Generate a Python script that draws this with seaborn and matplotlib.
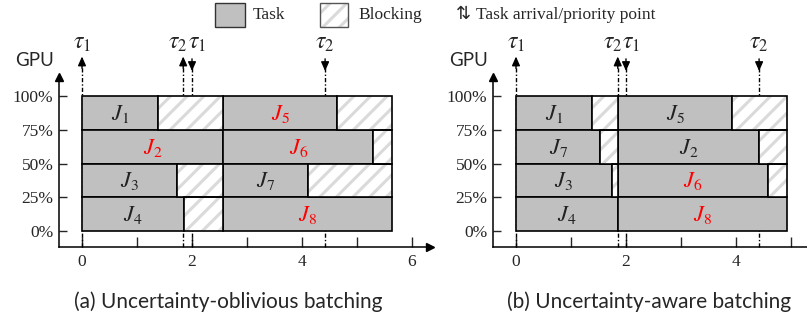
import matplotlib
matplotlib.use("Agg")
import matplotlib.pyplot as plt
import seaborn as sns
import pandas as pd
from matplotlib.patches import Rectangle

# ---- schedule (a): uncertainty-oblivious batching ----
a_jobs = ["1", "2", "3", "4", "5", "6", "7", "8"]
a_rows = [3, 2, 1, 0, 3, 2, 1, 0]
a_start = [0, 0, 0, 0, 2.57, 2.57, 2.57, 2.57]
a_task_end = [1.38, 2.57, 1.73, 1.85, 4.64, 5.29, 4.10, 5.63]
a_slot_end = [2.57, 2.57, 2.57, 2.57, 5.63, 5.63, 5.63, 5.63]
a_red = ["2", "5", "6", "8"]
a_tau_x = [0, 1.84, 2.0, 4.42]
a_tau_lab = ["1", "2", "1", "2"]
a_tau_dir = ["up", "up", "down", "down"]

# ---- schedule (b): uncertainty-aware batching ----
b_jobs = ["1", "7", "3", "4", "5", "2", "6", "8"]
b_rows = [3, 2, 1, 0, 3, 2, 1, 0]
b_start = [0, 0, 0, 0, 1.86, 1.86, 1.86, 1.86]
b_task_end = [1.39, 1.53, 1.74, 1.86, 3.92, 4.42, 4.58, 4.92]
b_slot_end = [1.86, 1.86, 1.86, 1.86, 4.92, 4.92, 4.92, 4.92]
b_red = ["6", "8"]
b_tau_x = [0, 1.85, 2.0, 4.42]
b_tau_lab = ["1", "2", "1", "2"]
b_tau_dir = ["up", "up", "down", "down"]

gpu_ticks = [0, 1, 2, 3, 4]
gpu_labels = ["0%", "25%", "50%", "75%", "100%"]
time_ticks = [0, 1, 2, 3, 4, 5, 6]
time_labels = ["0", "", "2", "", "4", "", "6"]

captions = ["(a) Uncertainty-oblivious batching", "(b) Uncertainty-aware batching"]

sns.set_theme(style="white", rc={"axes.edgecolor": "black", "hatch.linewidth": 2.2})
plt.rcParams["font.family"] = ["Liberation Serif", "DejaVu Sans"]
plt.rcParams["mathtext.fontset"] = "stix"

TASK_GRAY = "#c0c0c0"
HATCH_GRAY = "#dadada"
W, H = 807, 323
fig = plt.figure(figsize=(W / 100, H / 100), dpi=100)


def px_axes(x0, x1, ytop, ybot):
    return fig.add_axes([x0 / W, 1 - ybot / H, (x1 - x0) / W, (ybot - ytop) / H])


def draw_panel(ax, xlim, df, red, tau_x, tau_lab, tau_dir, caption, cap_x, arrow_x=True):
    ax.set_xlim(*xlim)
    ax.set_ylim(-0.474, 4.563)
    ax.patch.set_alpha(0)
    for s in ["top", "right"]:
        ax.spines[s].set_visible(False)
    for s in ["left", "bottom"]:
        ax.spines[s].set_linewidth(1.1)
        ax.spines[s].set_color("black")

    # arrival / priority points
    for x, lab, d in zip(tau_x, tau_lab, tau_dir):
        ax.plot([x, x], [-0.474, 4.95], color="black", lw=1.0,
                dashes=(3, 1.5, 1, 1.5), clip_on=False, zorder=1)
        if d == "up":
            ax.annotate("", xy=(x, 5.17), xytext=(x, 4.82), annotation_clip=False,
                        arrowprops=dict(arrowstyle="-|>,head_length=0.45,head_width=0.2",
                                        color="black", lw=1.0, shrinkA=0, shrinkB=0))
        else:
            ax.annotate("", xy=(x, 4.74), xytext=(x, 5.1), annotation_clip=False,
                        arrowprops=dict(arrowstyle="-|>,head_length=0.45,head_width=0.2",
                                        color="black", lw=1.0, shrinkA=0, shrinkB=0))
    for i, (x, lab) in enumerate(zip(tau_x, tau_lab)):
        if i == 1:
            ha, dx = "right", 4.5
        elif i == 2:
            ha, dx = "left", -4.0
        else:
            ha, dx = "center", 0
        ax.annotate(rf"$\tau_{lab}$", xy=(x, 5.55), xytext=(dx * 0.72, 0),
                    textcoords="offset points", ha=ha, va="center", fontsize=17,
                    annotation_clip=False)

    # task bars and blocking
    ax.barh(df["row"], df["task_end"] - df["start"], left=df["start"], height=1.0,
            align="edge", color=TASK_GRAY, edgecolor="black", linewidth=1.2, zorder=3)
    blk = df[df["slot_end"] > df["task_end"] + 1e-9]
    ax.barh(blk["row"], blk["slot_end"] - blk["task_end"], left=blk["task_end"], height=1.0,
            align="edge", color="white", edgecolor=HATCH_GRAY, hatch="//", linewidth=0, zorder=3)
    ax.barh(blk["row"], blk["slot_end"] - blk["task_end"], left=blk["task_end"], height=1.0,
            align="edge", fill=False, edgecolor="black", linewidth=1.2, zorder=4)
    for _, r in df.iterrows():
        ax.text((r["start"] + r["task_end"]) / 2, r["row"] + 0.47, rf"$J_{{{r['job']}}}$",
                ha="center", va="center", fontsize=16, zorder=5,
                color="#ff0000" if r["job"] in red else "#222222")

    ax.set_yticks(gpu_ticks)
    ax.set_yticklabels(gpu_labels)
    ticks = [t for t in time_ticks if t <= xlim[1]]
    ax.set_xticks(ticks)
    ax.set_xticklabels(time_labels[:len(ticks)])
    ax.tick_params(axis="y", direction="in", length=6, width=1.0, pad=4, labelsize=12.5, left=True)
    ax.tick_params(axis="x", direction="in", length=7, width=1.0, pad=5, labelsize=12.5, bottom=True)

    # axis arrows
    ax.plot(0, 1, marker="^", color="black", markersize=6, transform=ax.transAxes, clip_on=False)
    if arrow_x:
        ax.plot(1, 0, marker=">", color="black", markersize=6, transform=ax.transAxes, clip_on=False)

    ax.text(-25 / ax.bbox.width, (247 - 61) / 170, "GPU", transform=ax.transAxes,
            ha="center", va="center", fontsize=13.5, family="Lato")
    fig.text(cap_x / W, 1 - 302 / H, caption, ha="center", va="center", fontsize=15, family="Lato")


def frame(jobs, rows, start, task_end, slot_end):
    return pd.DataFrame({"job": jobs, "row": rows, "start": start,
                         "task_end": task_end, "slot_end": slot_end})


ax_a = px_axes(59, 430, 77, 247)
draw_panel(ax_a, (-0.418, 6.327), frame(a_jobs, a_rows, a_start, a_task_end, a_slot_end),
           a_red, a_tau_x, a_tau_lab, a_tau_dir, captions[0], 228)

ax_b = px_axes(493, 807, 77, 247)
draw_panel(ax_b, (-0.418, 5.291), frame(b_jobs, b_rows, b_start, b_task_end, b_slot_end),
           b_red, b_tau_x, b_tau_lab, b_tau_dir, captions[1], 649, arrow_x=False)

# legend row
def fig_rect(x, y, w, h, **kw):
    fig.add_artist(Rectangle((x / W, 1 - (y + h) / H), w / W, h / H,
                             transform=fig.transFigure, **kw))

fig_rect(215, 3, 30, 24, facecolor=TASK_GRAY, edgecolor="#333333", linewidth=1.0)
fig.text(253 / W, 1 - 15 / H, "Task", ha="left", va="center", fontsize=12.5)
fig_rect(320, 3, 28, 24, facecolor="white", edgecolor=HATCH_GRAY, hatch="//", linewidth=0)
fig_rect(320, 3, 28, 24, fill=False, edgecolor="#555555", linewidth=1.0)
fig.text(358 / W, 1 - 15 / H, "Blocking", ha="left", va="center", fontsize=12.5)
fig.text(456 / W, 1 - 14 / H, "\u21c5", ha="left", va="center", fontsize=13,
         family="DejaVu Sans")
fig.text(476 / W, 1 - 15 / H, "Task arrival/priority point", ha="left", va="center", fontsize=12.5)

fig.savefig("out.png", dpi=100)
